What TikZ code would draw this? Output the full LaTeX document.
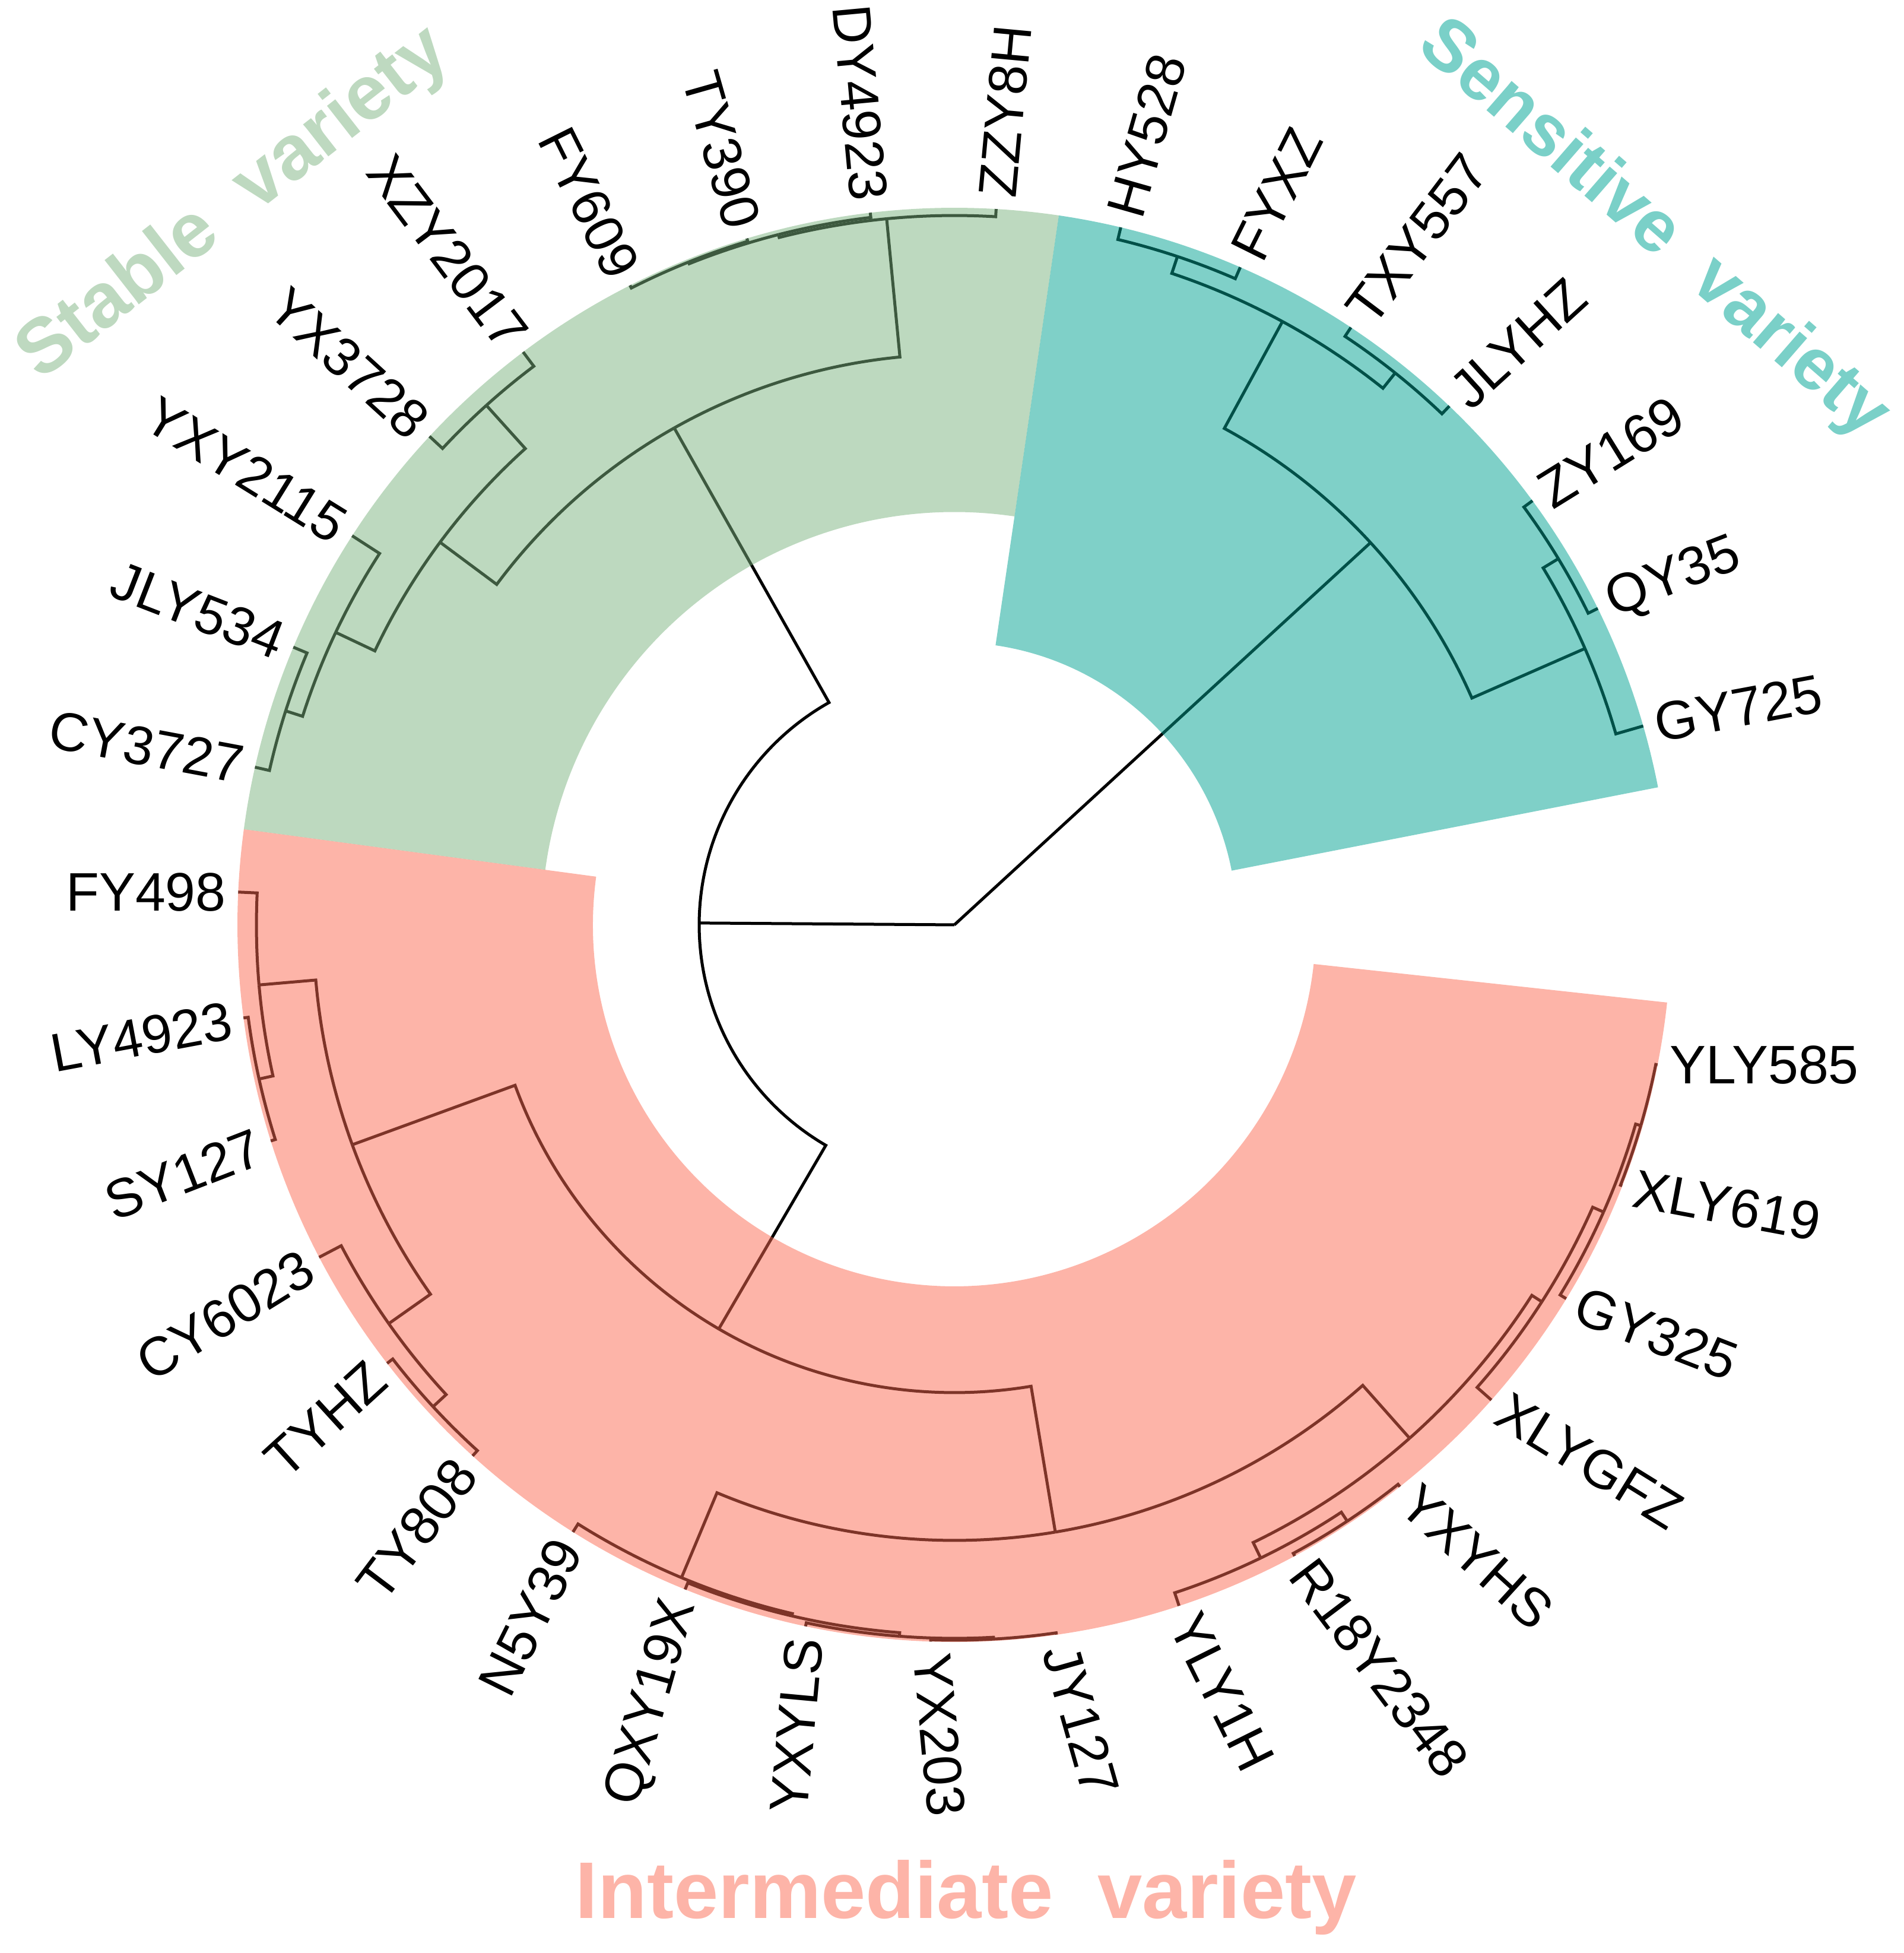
\documentclass[tikz,border=0pt]{standalone}
\usepackage{fontspec}
\setmainfont{Liberation Sans}
\definecolor{stablefill}{RGB}{123,179,127}
\definecolor{sensfill}{RGB}{0,161,145}
\definecolor{interfill}{RGB}{251,105,81}
\definecolor{stabletxt}{RGB}{190,217,192}
\definecolor{senstxt}{RGB}{122,208,200}
\definecolor{intertxt}{RGB}{253,180,168}
\newcommand\labfont{\fontsize{26}{28}\selectfont}
\newcommand\titfont{\fontsize{37}{40}\selectfont\bfseries}
\newcommand\titfontS{\fontsize{35}{38}\selectfont\bfseries}
\newcommand\titfontI{\fontsize{38.5}{42}\selectfont\bfseries}
\makeatletter
\newcommand\tnode[3]{%
  \expandafter\xdef\csname tth@#1\endcsname{#2}%
  \expandafter\xdef\csname ttr@#1\endcsname{#3}%
  \coordinate (#1) at (#2:#3);}
\newcommand\tedge[2]{%
  \draw[branch] (#1) arc[start angle=\csname tth@#1\endcsname, end angle=\csname tth@#2\endcsname, radius=\csname ttr@#1\endcsname] -- (#2);}
\newcommand\hsector[5]{% color, start, end, inner, outer
  \fill[#1, opacity=0.5] (#2:#4) arc[start angle=#2, end angle=#3, radius=#4] -- (#3:#5) arc[start angle=#3, end angle=#2, radius=#5] -- cycle;}
\makeatother
\tikzset{
  branch/.style={line width=0.05cm, black, line join=miter},
  labR/.style={anchor=west, inner xsep=0.2cm, inner ysep=0pt, font=\labfont},
  labL/.style={anchor=east, inner xsep=0.2cm, inner ysep=0pt, font=\labfont},
  title/.style={inner sep=0pt}
}
\begin{document}
\begin{tikzpicture}
\useasboundingbox (0,0) rectangle (32.08,32.90);
\begin{scope}[shift={(16.08,17.32)}]
% tips
\def\RT{12.08}
\tnode{GY725}{16.10}{\RT}
\tnode{QY35}{26.18}{\RT}
\tnode{ZY169}{36.26}{\RT}
\tnode{JLYHZ}{46.34}{\RT}
\tnode{TXY557}{56.42}{\RT}
\tnode{FYXZ}{66.50}{\RT}
\tnode{HY528}{76.58}{\RT}
\tnode{ZZY8H}{86.66}{\RT}
\tnode{DY4923}{96.74}{\RT}
\tnode{TY390}{106.82}{\RT}
\tnode{FY609}{116.90}{\RT}
\tnode{XZY2017}{126.98}{\RT}
\tnode{YX3728}{137.06}{\RT}
\tnode{YXY2115}{147.14}{\RT}
\tnode{JLY534}{157.22}{\RT}
\tnode{CY3727}{167.30}{\RT}
\tnode{FY498}{177.38}{\RT}
\tnode{LY4923}{187.46}{\RT}
\tnode{SY127}{197.54}{\RT}
\tnode{CY6023}{207.62}{\RT}
\tnode{TYHZ}{217.70}{\RT}
\tnode{TY808}{227.78}{\RT}
\tnode{N5Y39}{237.86}{\RT}
\tnode{QXY19X}{247.94}{\RT}
\tnode{YXYLS}{258.02}{\RT}
\tnode{YX203}{268.10}{\RT}
\tnode{JY127}{278.18}{\RT}
\tnode{YLY1H}{288.26}{\RT}
\tnode{R18Y2348}{298.34}{\RT}
\tnode{YXYHS}{308.42}{\RT}
\tnode{XLYGFZ}{318.50}{\RT}
\tnode{GY325}{328.58}{\RT}
\tnode{XLY619}{338.66}{\RT}
\tnode{YLY585}{348.74}{\RT}
% internal nodes
\tnode{root}{111.07}{0}
\tnode{S0}{42.56}{9.52}
\tnode{S1}{61.46}{11.57}
\tnode{HF}{71.54}{11.87}
\tnode{TJ}{51.38}{11.90}
\tnode{S2}{23.66}{11.60}
\tnode{ZQ}{31.22}{11.90}
\tnode{BB}{179.585}{4.30}
\tnode{ST}{119.42}{9.61}
\tnode{SR}{95.48}{11.95}
\tnode{nX}{104.30}{12.00}
\tnode{nY}{111.86}{12.03}
\tnode{SL}{143.36}{10.80}
\tnode{nA}{132.02}{11.78}
\tnode{nB}{154.70}{11.53}
\tnode{nQ}{162.26}{11.83}
\tnode{IN}{239.75}{7.88}
\tnode{IL}{200.06}{10.80}
\tnode{ILU}{184.94}{11.76}
\tnode{LS}{192.50}{12.00}
\tnode{ILL}{215.18}{11.66}
\tnode{TT}{222.74}{11.96}
\tnode{IR}{279.44}{10.37}
\tnode{IRL}{247.31}{11.92}
\tnode{nZ}{256.76}{11.96}
\tnode{nV}{265.58}{12.02}
\tnode{nW}{273.14}{12.05}
\tnode{IRR}{311.57}{11.56}
\tnode{R1}{295.82}{11.85}
\tnode{R2}{303.38}{12.03}
\tnode{IRRb}{327.32}{11.76}
\tnode{G3}{336.14}{11.96}
\tnode{G4}{343.70}{12.05}
% branches
\draw[branch] (root) -- (S0);
\draw[branch] (root) -- (BB);
\tedge{S0}{S1}\tedge{S0}{S2}
\tedge{S1}{HF}\tedge{S1}{TJ}
\tedge{HF}{HY528}\tedge{HF}{FYXZ}
\tedge{TJ}{TXY557}\tedge{TJ}{JLYHZ}
\tedge{S2}{ZQ}\tedge{S2}{GY725}
\tedge{ZQ}{ZY169}\tedge{ZQ}{QY35}
\tedge{BB}{ST}\tedge{BB}{IN}
\tedge{ST}{SL}\tedge{ST}{SR}
\tedge{SR}{ZZY8H}\tedge{SR}{nX}
\tedge{nX}{DY4923}\tedge{nX}{nY}
\tedge{nY}{TY390}\tedge{nY}{FY609}
\tedge{SL}{nA}\tedge{SL}{nB}
\tedge{nA}{XZY2017}\tedge{nA}{YX3728}
\tedge{nB}{YXY2115}\tedge{nB}{nQ}
\tedge{nQ}{JLY534}\tedge{nQ}{CY3727}
\tedge{IN}{IL}\tedge{IN}{IR}
\tedge{IL}{ILU}\tedge{IL}{ILL}
\tedge{ILU}{FY498}\tedge{ILU}{LS}
\tedge{LS}{LY4923}\tedge{LS}{SY127}
\tedge{ILL}{CY6023}\tedge{ILL}{TT}
\tedge{TT}{TYHZ}\tedge{TT}{TY808}
\tedge{IR}{IRL}\tedge{IR}{IRR}
\tedge{IRL}{N5Y39}\tedge{IRL}{nZ}
\tedge{nZ}{QXY19X}\tedge{nZ}{nV}
\tedge{nV}{YXYLS}\tedge{nV}{nW}
\tedge{nW}{YX203}\tedge{nW}{JY127}
\tedge{IRR}{R1}\tedge{IRR}{IRRb}
\tedge{R1}{YLY1H}\tedge{R1}{R2}
\tedge{R2}{R18Y2348}\tedge{R2}{YXYHS}
\tedge{IRRb}{XLYGFZ}\tedge{IRRb}{G3}
\tedge{G3}{GY325}\tedge{G3}{G4}
\tedge{G4}{XLY619}\tedge{G4}{YLY585}
% highlights
\hsector{stablefill}{81.62}{172.34}{6.955}{\RT}
\hsector{sensfill}{11.06}{81.62}{4.76}{\RT}
\hsector{interfill}{172.34}{353.78}{6.09}{\RT}
% labels
\node[labR, rotate=10.59] (lGY725) at (GY725) {GY725};
\node[labR, rotate=21.18] (lQY35) at (QY35) {QY35};
\node[labR, rotate=31.76] (lZY169) at (ZY169) {ZY169};
\node[labR, rotate=42.35] (lJLYHZ) at (JLYHZ) {JLYHZ};
\node[labR, rotate=52.94] (lTXY557) at (TXY557) {TXY557};
\node[labR, rotate=63.53] (lFYXZ) at (FYXZ) {FYXZ};
\node[labR, rotate=74.12] (lHY528) at (HY528) {HY528};
\node[labR, rotate=84.71] (lZZY8H) at (ZZY8H) {ZZY8H};
\node[labL, rotate=-84.71] (lDY4923) at (DY4923) {DY4923};
\node[labL, rotate=-74.12] (lTY390) at (TY390) {TY390};
\node[labL, rotate=-63.53] (lFY609) at (FY609) {FY609};
\node[labL, rotate=-52.94] (lXZY2017) at (XZY2017) {XZY2017};
\node[labL, rotate=-42.35] (lYX3728) at (YX3728) {YX3728};
\node[labL, rotate=-31.76] (lYXY2115) at (YXY2115) {YXY2115};
\node[labL, rotate=-21.18] (lJLY534) at (JLY534) {JLY534};
\node[labL, rotate=-10.59] (lCY3727) at (CY3727) {CY3727};
\node[labL, rotate=0] (lFY498) at (FY498) {FY498};
\node[labL, rotate=10.59] (lLY4923) at (LY4923) {LY4923};
\node[labL, rotate=21.18] (lSY127) at (SY127) {SY127};
\node[labL, rotate=31.76] (lCY6023) at (CY6023) {CY6023};
\node[labL, rotate=42.35] (lTYHZ) at (TYHZ) {TYHZ};
\node[labL, rotate=52.94] (lTY808) at (TY808) {TY808};
\node[labL, rotate=63.53] (lN5Y39) at (N5Y39) {N5Y39};
\node[labL, rotate=74.12] (lQXY19X) at (QXY19X) {QXY19X};
\node[labL, rotate=84.71] (lYXYLS) at (YXYLS) {YXYLS};
\node[labR, rotate=-84.71] (lYX203) at (YX203) {YX203};
\node[labR, rotate=-74.12] (lJY127) at (JY127) {JY127};
\node[labR, rotate=-63.53] (lYLY1H) at (YLY1H) {YLY1H};
\node[labR, rotate=-52.94] (lR18Y2348) at (R18Y2348) {R18Y2348};
\node[labR, rotate=-42.35] (lYXYHS) at (YXYHS) {YXYHS};
\node[labR, rotate=-31.76] (lXLYGFZ) at (XLYGFZ) {XLYGFZ};
\node[labR, rotate=-21.18] (lGY325) at (GY325) {GY325};
\node[labR, rotate=-10.59] (lXLY619) at (XLY619) {XLY619};
\node[labR, rotate=0] (lYLY585) at (YLY585) {YLY585};
\end{scope}
% titles
\node[title, font=\titfont, text=stabletxt, rotate=38] (tStable) at (3.95,29.45) {Stable\ \ variety};
\node[title, font=\titfontS, text=senstxt, rotate=-41] (tSens) at (27.85,29.02) {Sensitive\ \ variety};
\node[title, font=\titfontI, text=intertxt, anchor=base] (tInter) at (16.28,0.59) {Intermediate\ \ variety};
\end{tikzpicture}
\end{document}
